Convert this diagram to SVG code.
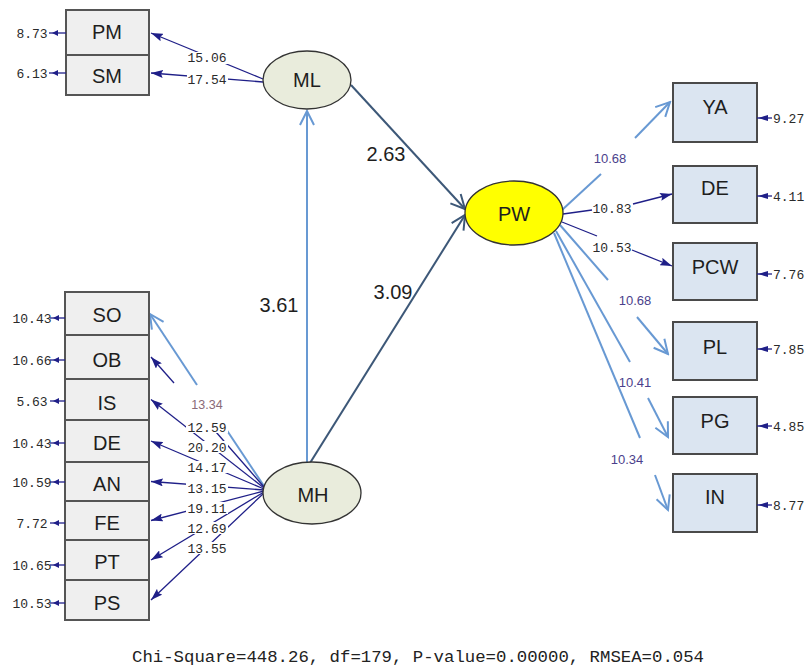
<svg xmlns="http://www.w3.org/2000/svg" width="807" height="671" viewBox="0 0 807 671">
<style>
.bl{fill:#efefef;stroke:#555;stroke-width:2}
.br{fill:#dbe5f1;stroke:#4a4a4a;stroke-width:2}
.el{fill:#e9ecdc;stroke:#333;stroke-width:1.3}
.nt{font-family:"Liberation Sans",Arial,sans-serif;font-size:20px;fill:#1e1e1e;text-anchor:middle}
.cf{font-family:"Liberation Sans",Arial,sans-serif;font-size:20px;fill:#1e1e1e;text-anchor:middle}
.mo{font-family:"Liberation Mono","Courier New",monospace;font-size:13px;fill:#2a2a2a;text-anchor:middle}
.pl{font-family:"Liberation Sans",Arial,sans-serif;font-size:13px;fill:#4b3f8c;text-anchor:middle}
.nv{stroke:#1f1f88;stroke-width:1.3;fill:none}
.lb{stroke:#6899d3;stroke-width:2;fill:none}
.sl{stroke:#3d5878;stroke-width:2;fill:none}
.bg{fill:#fff}
.ea{stroke:#1f1f88;stroke-width:1.3}
.eh{fill:#1f1f88}
</style>
<defs>
<marker id="fn" viewBox="0 0 12 8" refX="12" refY="4" markerWidth="12" markerHeight="8" markerUnits="userSpaceOnUse" orient="auto"><path d="M0,0 L12,4 L0,8 L2,4 z" fill="#1f1f88"/></marker>
<marker id="ob" viewBox="-2 -2 18 18" refX="14" refY="7" markerWidth="18" markerHeight="18" markerUnits="userSpaceOnUse" orient="auto"><path d="M0,0 L14,7 L0,14" fill="none" stroke="#6899d3" stroke-width="2"/></marker>
<marker id="os" viewBox="-2 -2 18 18" refX="14" refY="7" markerWidth="18" markerHeight="18" markerUnits="userSpaceOnUse" orient="auto"><path d="M0,0 L14,7 L0,14" fill="none" stroke="#3d5878" stroke-width="2"/></marker>
</defs>
<rect width="807" height="671" fill="#fff"/>

<g id="connectors">
<!-- ML indicators -->
<line class="nv" x1="263" y1="79" x2="151" y2="33" marker-end="url(#fn)"/>
<line class="nv" x1="263" y1="82" x2="151" y2="73" marker-end="url(#fn)"/>
<rect class="bg" x="187" y="52" width="41" height="12"/>
<rect class="bg" x="187" y="74" width="41" height="12"/>
<text class="mo" x="207" y="62">15.06</text>
<text class="mo" x="207" y="84">17.54</text>
<!-- MH indicators -->
<line class="lb" x1="264" y1="486" x2="226" y2="429"/>
<line class="lb" x1="197" y1="385" x2="150" y2="314" marker-end="url(#ob)"/>
<line class="nv" x1="264" y1="487" x2="216" y2="432"/>
<line class="nv" x1="174" y1="383" x2="151" y2="357" marker-end="url(#fn)"/>
<line class="nv" x1="264" y1="488" x2="151" y2="399.5" marker-end="url(#fn)"/>
<line class="nv" x1="264" y1="489" x2="151" y2="441" marker-end="url(#fn)"/>
<line class="nv" x1="264" y1="490" x2="151" y2="481.5" marker-end="url(#fn)"/>
<line class="nv" x1="264" y1="491" x2="151" y2="520.5" marker-end="url(#fn)"/>
<line class="nv" x1="264" y1="492" x2="151" y2="560" marker-end="url(#fn)"/>
<line class="nv" x1="264" y1="493" x2="151" y2="600" marker-end="url(#fn)"/>
<rect class="bg" x="186" y="398" width="42" height="12"/>
<rect class="bg" x="186" y="421" width="42" height="12"/>
<rect class="bg" x="186" y="441" width="42" height="12"/>
<rect class="bg" x="186" y="461" width="42" height="12"/>
<rect class="bg" x="186" y="482" width="42" height="12"/>
<rect class="bg" x="186" y="502" width="42" height="12"/>
<rect class="bg" x="186" y="522" width="42" height="12"/>
<rect class="bg" x="186" y="542" width="42" height="12"/>
<text x="207" y="408.5" style="font-family:'Liberation Sans',Arial,sans-serif;font-size:12.5px;fill:#8a6a78;text-anchor:middle">13.34</text>
<text class="mo" x="207" y="431.5">12.59</text>
<text class="mo" x="207" y="451.5">20.20</text>
<text class="mo" x="207" y="471.5">14.17</text>
<text class="mo" x="207" y="492.5">13.15</text>
<text class="mo" x="207" y="512.5">19.11</text>
<text class="mo" x="207" y="532.5">12.69</text>
<text class="mo" x="207" y="552.5">13.55</text>
<!-- structural -->
<line class="lb" x1="307" y1="463" x2="307" y2="111" marker-end="url(#ob)"/>
<line class="sl" x1="351" y1="85" x2="465" y2="209" marker-end="url(#os)"/>
<line class="sl" x1="310" y1="463" x2="465" y2="215" marker-end="url(#os)"/>
<text class="cf" x="386" y="161">2.63</text>
<text class="cf" x="393" y="299">3.09</text>
<text class="cf" x="279" y="312">3.61</text>
<!-- PW indicators -->
<line class="lb" x1="562" y1="210" x2="601" y2="174"/>
<line class="lb" x1="635" y1="138" x2="670" y2="102" marker-end="url(#ob)"/>
<text class="pl" x="610" y="162.5">10.68</text>
<line class="nv" x1="563" y1="214" x2="592" y2="210"/>
<line class="nv" x1="633" y1="204" x2="672" y2="194" marker-end="url(#fn)"/>
<text class="mo" x="612" y="212.5">10.83</text>
<line class="nv" x1="562" y1="222" x2="597" y2="236"/>
<line class="nv" x1="632" y1="250" x2="672" y2="266" marker-end="url(#fn)"/>
<text class="mo" x="612" y="251.5">10.53</text>
<line class="lb" x1="560" y1="225" x2="608" y2="280"/>
<line class="lb" x1="637" y1="317" x2="668" y2="354" marker-end="url(#ob)"/>
<text class="pl" x="635" y="304.5">10.68</text>
<line class="lb" x1="556" y1="231" x2="630" y2="362"/>
<line class="lb" x1="648" y1="398" x2="668" y2="437" marker-end="url(#ob)"/>
<text class="pl" x="635" y="386.5">10.41</text>
<line class="lb" x1="554" y1="233" x2="640" y2="438"/>
<line class="lb" x1="655" y1="475" x2="668" y2="510" marker-end="url(#ob)"/>
<text class="pl" x="627" y="463.5">10.34</text>
</g>

<g id="PM"><rect class="bl" x="66" y="10" width="83" height="45"/><text class="nt" x="107" y="39">PM</text>
<line class="ea" x1="49" y1="33" x2="66" y2="33"/><path class="eh" d="M52,33 L58,30 L58,36 z"/><text class="mo" x="32" y="37.5">8.73</text></g>
<g id="SM"><rect class="bl" x="66" y="55" width="83" height="40"/><text class="nt" x="107" y="83">SM</text>
<line class="ea" x1="49" y1="73" x2="66" y2="73"/><path class="eh" d="M52,73 L58,70 L58,76 z"/><text class="mo" x="32" y="77.5">6.13</text></g>

<g id="SO"><rect class="bl" x="65" y="292" width="84" height="43"/><text class="nt" x="107" y="322">SO</text>
<line class="ea" x1="50" y1="318" x2="65" y2="318"/><path class="eh" d="M53,318 L59,315 L59,321 z"/><text class="mo" x="32" y="322.5">10.43</text></g>
<g id="OB"><rect class="bl" x="65" y="335" width="84" height="44"/><text class="nt" x="107" y="367">OB</text>
<line class="ea" x1="50" y1="360" x2="65" y2="360"/><path class="eh" d="M53,360 L59,357 L59,363 z"/><text class="mo" x="32" y="364.5">10.66</text></g>
<g id="IS"><rect class="bl" x="65" y="379" width="84" height="41"/><text class="nt" x="107" y="410">IS</text>
<line class="ea" x1="50" y1="401" x2="65" y2="401"/><path class="eh" d="M53,401 L59,398 L59,404 z"/><text class="mo" x="32" y="405.5">5.63</text></g>
<g id="DE1"><rect class="bl" x="65" y="420" width="84" height="42"/><text class="nt" x="107" y="450">DE</text>
<line class="ea" x1="50" y1="443" x2="65" y2="443"/><path class="eh" d="M53,443 L59,440 L59,446 z"/><text class="mo" x="32" y="447.5">10.43</text></g>
<g id="AN"><rect class="bl" x="65" y="462" width="84" height="39"/><text class="nt" x="107" y="491">AN</text>
<line class="ea" x1="50" y1="482" x2="65" y2="482"/><path class="eh" d="M53,482 L59,479 L59,485 z"/><text class="mo" x="32" y="486.5">10.59</text></g>
<g id="FE"><rect class="bl" x="65" y="501" width="84" height="39"/><text class="nt" x="107" y="530">FE</text>
<line class="ea" x1="50" y1="523" x2="65" y2="523"/><path class="eh" d="M53,523 L59,520 L59,526 z"/><text class="mo" x="32" y="527.5">7.72</text></g>
<g id="PT"><rect class="bl" x="65" y="540" width="84" height="40"/><text class="nt" x="107" y="569">PT</text>
<line class="ea" x1="50" y1="565" x2="65" y2="565"/><path class="eh" d="M53,565 L59,562 L59,568 z"/><text class="mo" x="32" y="569.5">10.65</text></g>
<g id="PS"><rect class="bl" x="65" y="580" width="84" height="40"/><text class="nt" x="107" y="610">PS</text>
<line class="ea" x1="50" y1="603" x2="65" y2="603"/><path class="eh" d="M53,603 L59,600 L59,606 z"/><text class="mo" x="32" y="607.5">10.53</text></g>

<g id="ML"><ellipse class="el" cx="307" cy="80" rx="44" ry="29"/><text class="nt" x="307" y="87">ML</text></g>
<g id="MH"><ellipse class="el" cx="312" cy="493" rx="49" ry="31"/><text class="nt" x="313" y="502">MH</text></g>
<g id="PW"><ellipse cx="514" cy="213" rx="49" ry="32" fill="#ffff00" stroke="#333" stroke-width="1.3"/><text class="nt" x="514" y="221">PW</text></g>

<g id="YA"><rect class="br" x="673" y="83" width="84" height="59"/><text class="nt" x="715" y="114">YA</text>
<line class="ea" x1="757" y1="118" x2="772" y2="118"/><path class="eh" d="M758,118 L768,115 L768,121 z"/><text class="mo" x="773" y="122.5" style="text-anchor:start">9.27</text></g>
<g id="DE2"><rect class="br" x="673" y="166" width="84" height="57"/><text class="nt" x="715" y="195">DE</text>
<line class="ea" x1="757" y1="196" x2="772" y2="196"/><path class="eh" d="M758,196 L768,193 L768,199 z"/><text class="mo" x="773" y="200.5" style="text-anchor:start">4.11</text></g>
<g id="PCW"><rect class="br" x="673" y="243" width="84" height="57"/><text class="nt" x="715" y="274">PCW</text>
<line class="ea" x1="757" y1="274" x2="772" y2="274"/><path class="eh" d="M758,274 L768,271 L768,277 z"/><text class="mo" x="773" y="278.5" style="text-anchor:start">7.76</text></g>
<g id="PL"><rect class="br" x="673" y="322" width="84" height="58"/><text class="nt" x="715" y="354">PL</text>
<line class="ea" x1="757" y1="349" x2="772" y2="349"/><path class="eh" d="M758,349 L768,346 L768,352 z"/><text class="mo" x="773" y="353.5" style="text-anchor:start">7.85</text></g>
<g id="PG"><rect class="br" x="673" y="397" width="84" height="57"/><text class="nt" x="715" y="428">PG</text>
<line class="ea" x1="757" y1="426" x2="772" y2="426"/><path class="eh" d="M758,426 L768,423 L768,429 z"/><text class="mo" x="773" y="430.5" style="text-anchor:start">4.85</text></g>
<g id="IN"><rect class="br" x="673" y="474" width="84" height="58"/><text class="nt" x="715" y="504">IN</text>
<line class="ea" x1="757" y1="505" x2="772" y2="505"/><path class="eh" d="M758,505 L768,502 L768,508 z"/><text class="mo" x="773" y="509.5" style="text-anchor:start">8.77</text></g>

<text x="132" y="662" textLength="572" lengthAdjust="spacingAndGlyphs" style="font-family:'Liberation Mono','Courier New',monospace;font-size:16px;fill:#222">Chi-Square=448.26, df=179, P-value=0.00000, RMSEA=0.054</text>
</svg>
